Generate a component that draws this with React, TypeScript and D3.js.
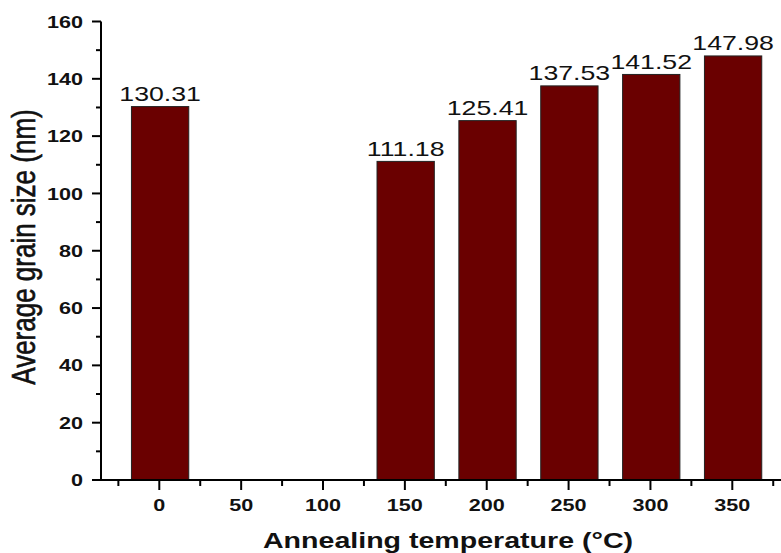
import React from "react";
import * as d3 from "d3";

// Annealing temperatures (°C) and mean grain size (nm)
const temperatures = [0, 150, 200, 250, 300, 350];
const grainSizes = [130.31, 111.18, 125.41, 137.53, 141.52, 147.98];
const xMajorTicks = [0, 50, 100, 150, 200, 250, 300, 350];
const xMinorTicks = [-25, 25, 75, 125, 175, 225, 275, 325, 375];
const yMajorTicks = [0, 20, 40, 60, 80, 100, 120, 140, 160];
const yMinorTicks = [10, 30, 50, 70, 90, 110, 130, 150];

const W = 781;
const H = 553;
const FONT = "Arial, 'Liberation Sans', sans-serif";
const SX = 1.27; // horizontal stretch of glyphs

const x = d3.scaleLinear().domain([0, 350]).range([159.3, 732.3]);
const y = d3.scaleLinear().domain([0, 160]).range([480, 21.5]);
const axisLeft = 101;
const axisRight = 781;
const barWidth = x(35) - x(0);

function SText(props: {
  x: number;
  y: number;
  children: React.ReactNode;
  size: number;
  weight?: string | number;
  anchor?: string;
  rotate?: boolean;
  dy?: string;
  heavy?: number;
}) {
  const { x: tx, y: ty, size, weight = "normal", anchor = "middle", rotate, dy, heavy } = props;
  const tr = `translate(${tx},${ty}) scale(${SX},1)${rotate ? " rotate(-90)" : ""}`;
  return (
    <text
      transform={tr}
      fontFamily={FONT}
      fontSize={size}
      fontWeight={weight}
      textAnchor={anchor}
      dy={dy}
      fill="#111"
      stroke={heavy ? "#111" : undefined}
      strokeWidth={heavy}
    >
      {props.children}
    </text>
  );
}

export default function App() {
  return (
    <svg
      width={W}
      height={H}
      style={{ position: "absolute", left: 0, top: 0, background: "#fff" }}
    >
      {/* bars */}
      {temperatures.map((t, i) => (
        <rect
          key={t}
          x={x(t) - barWidth / 2 + 0.8}
          y={y(grainSizes[i])}
          width={barWidth}
          height={y(0) - y(grainSizes[i])}
          fill="#6a0000"
          stroke="#222"
          strokeWidth={1}
        />
      ))}
      {/* value labels */}
      {temperatures.map((t, i) => (
        <SText key={t} x={x(t) + 0.8} y={y(grainSizes[i]) - 5.5} size={21}>
          {grainSizes[i].toFixed(2)}
        </SText>
      ))}

      {/* y axis */}
      <line x1={axisLeft} x2={axisLeft} y1={y(160)} y2={y(0) + 1} stroke="#000" strokeWidth={2} />
      {yMajorTicks.map((v) => (
        <g key={v}>
          <line x1={axisLeft - 9} x2={axisLeft} y1={y(v)} y2={y(v)} stroke="#000" strokeWidth={2} />
          <SText x={83} y={y(v)} size={17} weight="bold" anchor="end" dy="0.36em">
            {v}
          </SText>
        </g>
      ))}
      {yMinorTicks.map((v) => (
        <line key={v} x1={axisLeft - 5} x2={axisLeft} y1={y(v)} y2={y(v)} stroke="#000" strokeWidth={2} />
      ))}

      {/* x axis */}
      <line x1={axisLeft - 1} x2={axisRight} y1={y(0)} y2={y(0)} stroke="#000" strokeWidth={2} />
      {xMajorTicks.map((v) => (
        <g key={v}>
          <line x1={x(v)} x2={x(v)} y1={y(0)} y2={y(0) + 10} stroke="#000" strokeWidth={2} />
          <SText x={x(v)} y={511} size={17} weight="bold">
            {v}
          </SText>
        </g>
      ))}
      {xMinorTicks.map((v) => (
        <line key={v} x1={x(v)} x2={x(v)} y1={y(0)} y2={y(0) + 6} stroke="#000" strokeWidth={2} />
      ))}

      {/* axis titles */}
      <SText x={448} y={547.5} size={22.5} weight="bold">
        Annealing temperature (°C)
      </SText>
      <SText x={35} y={247} size={26} rotate heavy={0.5}>
        Average grain size (nm)
      </SText>
    </svg>
  );
}
